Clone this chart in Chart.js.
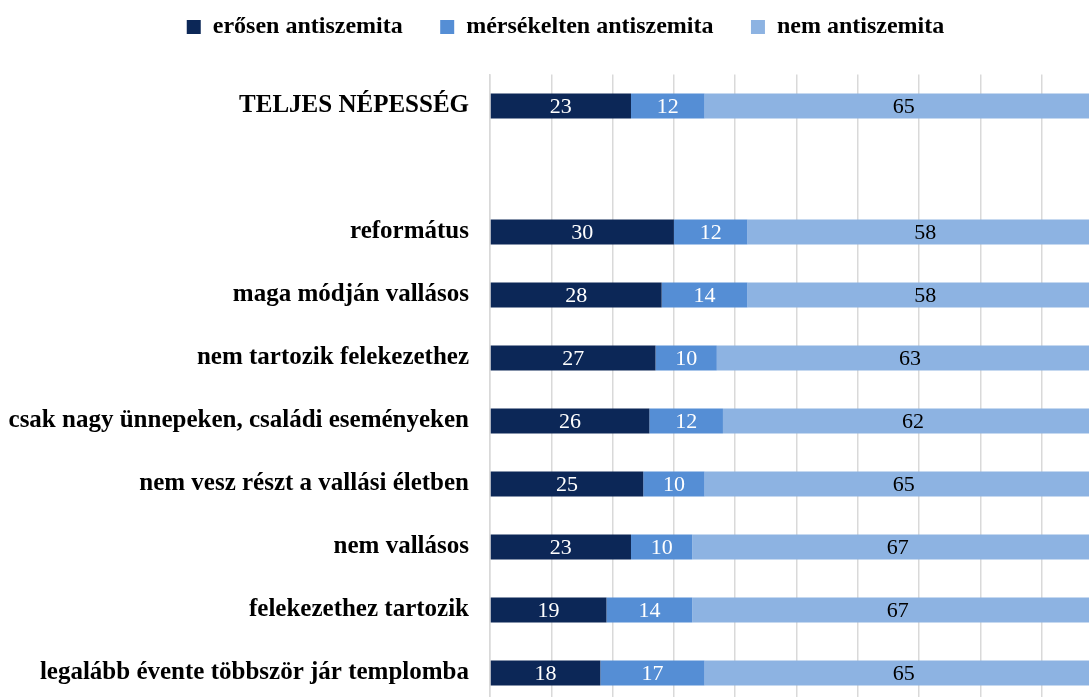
<!DOCTYPE html>
<html>
<head>
<meta charset="utf-8">
<script src="https://cdn.jsdelivr.net/npm/chart.js@4.4.1/dist/chart.umd.min.js"></script>
<style>
  html, body { margin: 0; padding: 0; background: #fff; overflow: hidden; }
  #wrap { position: absolute; left: 0; top: 0; width: 1110px; height: 710px; }
</style>
</head>
<body>
<div id="wrap"><canvas id="chart" width="1110" height="710"></canvas></div>
<script>
// kategóriák (az üres sor a TELJES NÉPESSÉG utáni hézag)
var categories = [
  'TELJES NÉPESSÉG',
  '',
  'református',
  'maga módján vallásos',
  'nem tartozik felekezethez',
  'csak nagy ünnepeken, családi eseményeken',
  'nem vesz részt a vallási életben',
  'nem vallásos',
  'felekezethez tartozik',
  'legalább évente többször jár templomba'
];
var seriesNames = ['erősen antiszemita', 'mérsékelten antiszemita', 'nem antiszemita'];
var strong   = [23, null, 30, 28, 27, 26, 25, 23, 19, 18];
var moderate = [12, null, 12, 14, 10, 12, 10, 10, 14, 17];
var none     = [65, null, 58, 58, 63, 62, 65, 67, 67, 65];
var xTicks = [0, 10, 20, 30, 40, 50, 60, 70, 80, 90, 100];

var COLORS = ['#0C2757', '#558ED5', '#8DB3E2'];
var LABEL_COLORS = ['#ffffff', '#ffffff', '#000000'];
var SERIF = '"Liberation Serif", "DejaVu Serif", serif';

// szegmens értékek kiírása a sávok közepére
var barLabels = {
  id: 'barLabels',
  afterDatasetsDraw: function (chart) {
    var ctx = chart.ctx;
    ctx.save();
    ctx.font = '22px ' + SERIF;
    ctx.textAlign = 'center';
    ctx.textBaseline = 'middle';
    chart.data.datasets.forEach(function (ds, di) {
      var meta = chart.getDatasetMeta(di);
      meta.data.forEach(function (bar, i) {
        var v = ds.data[i];
        if (v == null) return;
        ctx.fillStyle = LABEL_COLORS[di];
        ctx.fillText(String(v), (bar.x + bar.base) / 2, bar.y + 1);
      });
    });
    ctx.restore();
  }
};

// jelmagyarázat helye: a diagramterület 74.5 px-nél kezdődjön
var legendPlace = {
  id: 'legendPlace',
  beforeInit: function (chart) {
    var fit = chart.legend.fit;
    chart.legend.fit = function () {
      fit.bind(chart.legend)();
      this.height = 74.5;
    };
  },
  afterLayout: function (chart) {
    var lg = chart.legend;
    lg.top = -22.5;
    lg.left += 14;
    lg.right += 14;
  }
};

new Chart(document.getElementById('chart'), {
  type: 'bar',
  data: {
    labels: categories,
    datasets: [
      { label: seriesNames[0], data: strong, backgroundColor: COLORS[0] },
      { label: seriesNames[1], data: moderate, backgroundColor: COLORS[1] },
      { label: seriesNames[2], data: none, backgroundColor: COLORS[2] }
    ]
  },
  options: {
    indexAxis: 'y',
    responsive: false,
    animation: false,
    layout: { padding: { left: 0, right: 7, top: 0, bottom: 5.5 } },
    datasets: { bar: { barPercentage: 0.4, categoryPercentage: 1 } },
    plugins: {
      legend: {
        position: 'top',
        labels: {
          color: '#000',
          font: { family: SERIF, size: 24, weight: 'bold' },
          boxWidth: 14,
          boxHeight: 14,
          padding: 37.5
        }
      },
      tooltip: { enabled: false }
    },
    scales: {
      x: {
        stacked: true,
        min: 0,
        max: 100,
        afterBuildTicks: function (scale) {
          scale.ticks = xTicks.map(function (v) { return { value: v }; });
        },
        afterFit: function (scale) { scale.height = 0; },
        ticks: { display: false },
        grid: { color: '#D9D9D9', lineWidth: 1.5, drawTicks: false },
        border: { display: false }
      },
      y: {
        stacked: true,
        afterFit: function (scale) {
          scale.width = 490;
          scale.paddingTop = 0;
          scale.paddingBottom = 0;
        },
        ticks: {
          color: '#000',
          font: { family: SERIF, size: 25, weight: 'bold' },
          padding: 21,
          autoSkip: false
        },
        grid: { display: false, drawTicks: false },
        border: { display: true, color: '#D9D9D9', width: 1.5 }
      }
    }
  },
  plugins: [barLabels, legendPlace]
});
</script>
</body>
</html>
